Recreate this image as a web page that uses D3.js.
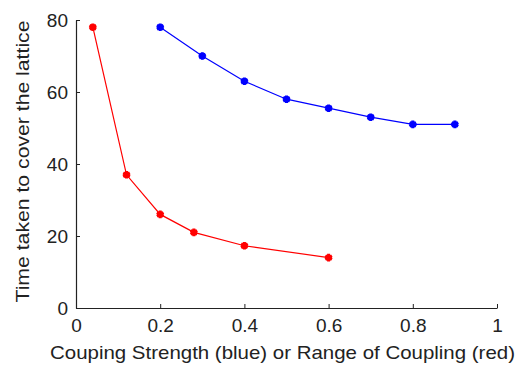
<!DOCTYPE html>
<html>
<head>
<meta charset="utf-8">
<script src="https://cdn.jsdelivr.net/npm/d3@7"></script>
<style>
  body { margin: 0; background: #fff; }
  text { font-family: "Liberation Sans", Arial, sans-serif; fill: #222; }
</style>
</head>
<body>
<svg id="chart" width="519" height="367"></svg>
<script>
// values
var blueX = [0.2, 0.3, 0.4, 0.5, 0.6, 0.7, 0.8, 0.9];
var blueY = [78, 70, 63, 58, 55.5, 53, 51, 51];
var redX = [0.04, 0.12, 0.2, 0.28, 0.4, 0.6];
var redY = [78, 37, 26, 21, 17.3, 14];
var xTicks = [0, 0.2, 0.4, 0.6, 0.8, 1];
var yTicks = [0, 20, 40, 60, 80];

var svg = d3.select("#chart");
var margin = {left: 76, right: 22, top: 20, bottom: 59};
var w = 519 - margin.left - margin.right,
    h = 367 - margin.top - margin.bottom;

var x = d3.scaleLinear().domain([0, 1]).range([0, w]);
var y = d3.scaleLinear().domain([0, 80]).range([h, 0]);

var g = svg.append("g").attr("transform", "translate(" + margin.left + "," + margin.top + ")");

// axes, ticks pointing inward like matlab
var xAxis = d3.axisBottom(x).tickValues(xTicks).tickSizeInner(-4).tickSizeOuter(0).tickPadding(9)
  .tickFormat(function(d) { return d; });
var yAxis = d3.axisLeft(y).tickValues(yTicks).tickSizeInner(-4).tickSizeOuter(0).tickPadding(8);

var gx = g.append("g").attr("transform", "translate(0," + h + ")").call(xAxis);
var gy = g.append("g").call(yAxis);
[gx, gy].forEach(function(a) {
  a.select(".domain").attr("stroke", "#222").attr("stroke-width", 1.2);
  a.selectAll(".tick line").attr("stroke", "#222");
  a.selectAll(".tick text").style("font-size", "19px").attr("fill", "#222");
});
gx.selectAll(".tick text").attr("dy", "0.78em");

var line = d3.line()
  .x(function(d) { return x(d[0]); })
  .y(function(d) { return y(d[1]); });

var marker = d3.symbol().type(d3.symbolAsterisk).size(40);

function drawSeries(xs, ys, color) {
  var pts = xs.map(function(v, i) { return [v, ys[i]]; });
  g.append("path").datum(pts)
    .attr("d", line)
    .attr("fill", "none")
    .attr("stroke", color)
    .attr("stroke-width", 1.2);
  g.selectAll(null).data(pts).enter().append("path")
    .attr("d", marker)
    .attr("transform", function(d) { return "translate(" + x(d[0]) + "," + y(d[1]) + ")"; })
    .attr("fill", "none")
    .attr("stroke", color)
    .attr("stroke-width", 3);
  g.selectAll(null).data(pts).enter().append("circle")
    .attr("cx", function(d) { return x(d[0]); })
    .attr("cy", function(d) { return y(d[1]); })
    .attr("r", 3.2)
    .attr("fill", color);
}

drawSeries(blueX, blueY, "#0000ff");
drawSeries(redX, redY, "#ff0000");

svg.append("text")
  .attr("x", 282.5)
  .attr("y", 359)
  .attr("text-anchor", "middle")
  .attr("textLength", 465)
  .attr("lengthAdjust", "spacingAndGlyphs")
  .style("font-size", "19px")
  .text("Couping Strength (blue) or Range of Coupling (red)");

svg.append("text")
  .attr("transform", "translate(29,161.5) rotate(-90)")
  .attr("text-anchor", "middle")
  .attr("textLength", 282)
  .attr("lengthAdjust", "spacingAndGlyphs")
  .style("font-size", "19px")
  .text("Time taken to cover the lattice");
</script>
</body>
</html>
